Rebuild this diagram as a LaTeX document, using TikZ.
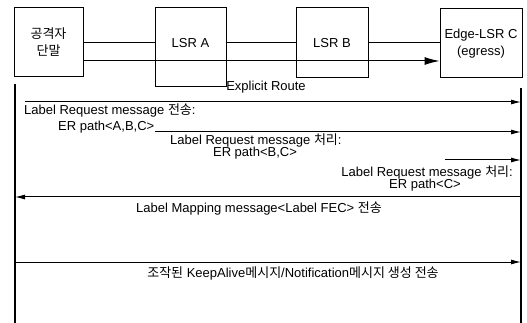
\documentclass[tikz,border=0pt]{standalone}
\usepackage{fontspec}
\setmainfont{Liberation Sans}
\newfontfamily\kr{Noto Sans CJK KR}
\usetikzlibrary{arrows.meta,positioning}

\begin{document}
\begin{tikzpicture}[
  x=1pt, y=-1pt,
  box/.style={rectangle, draw, line width=1pt, inner sep=0pt, font=\fontsize{13}{17}\selectfont, align=center},
  msg/.style={-{Latex[length=10pt,width=5pt]}, line width=1pt},
  life/.style={line width=2.4pt},
  txt/.style={font=\fontsize{13}{15}\selectfont, inner sep=0pt}
]
  \useasboundingbox (0,0) rectangle (527,323);

  \node[box, minimum width=69pt, minimum height=69pt] (term) at (48.5,42.5) {{\kr 공격자}\\{\kr 단말}};
  \node[box, minimum width=71pt, minimum height=79pt, text depth=9pt] (lsra) at (190.5,47.5) {LSR A};
  \node[box, minimum width=72pt, minimum height=70pt] (lsrb) at (332,43) {LSR B};
  \node[box, minimum width=82pt, minimum height=69pt] (edge) at (481,43.5) {Edge-LSR C\\(egress)};

  \coordinate (route) at (0,61);
  \draw[line width=1pt] (term.east |- 0,43) -- (lsra.west |- 0,43);
  \draw[line width=1pt] (lsra.east |- 0,43) -- (lsrb.west |- 0,43);
  \draw[line width=1pt] (lsrb.east |- 0,43) -- (edge.west |- 0,43);
  \draw[-{Latex[length=15pt,width=8pt]}, line width=1pt] (term.east |- route) -- (edge.west |- route);
  \node[txt] (er) at (266,87) {Explicit Route};

  % lifelines
  \coordinate (ltop) at (15,84);
  \coordinate (lbot) at (15,323);
  \coordinate (rtop) at (521,88);
  \coordinate (rbot) at (521,323);
  \draw[life] (ltop) -- (lbot);
  \draw[life] (rtop) -- (rbot);

  % messages
  \draw[msg] (25,102) -- (rtop |- 0,102);
  \node[txt, anchor=west] (m1) at (24,110) {Label Request message {\kr 전송}:};
  \node[txt, anchor=west] (m1p) at (58,127) {ER path<A,B,C>};

  \draw[msg] (155,132) -- (rtop |- 0,132);
  \node[txt, anchor=west] (m2) at (170,140) {Label Request message {\kr 처리}:};
  \node[txt] (m2p) at (255,153) {ER path<B,C>};

  \draw[msg] (445,160) -- (rtop |- 0,160);
  \node[txt, anchor=east] (m3) at (513,172) {Label Request message {\kr 처리}:};
  \node[txt] (m3p) at (425,185) {ER path<C>};

  \draw[msg] (rtop |- 0,197) -- (ltop |- 0,197);
  \node[txt] (m4) at (259,208) {Label Mapping message<Label FEC> {\kr 전송}};

  \draw[msg] (ltop |- 0,262) -- (rtop |- 0,262);
  \node[txt] (m5) at (293,273) {{\kr 조작된} KeepAlive{\kr 메시지}/Notification{\kr 메시지 생성 전송}};
\end{tikzpicture}
\end{document}
